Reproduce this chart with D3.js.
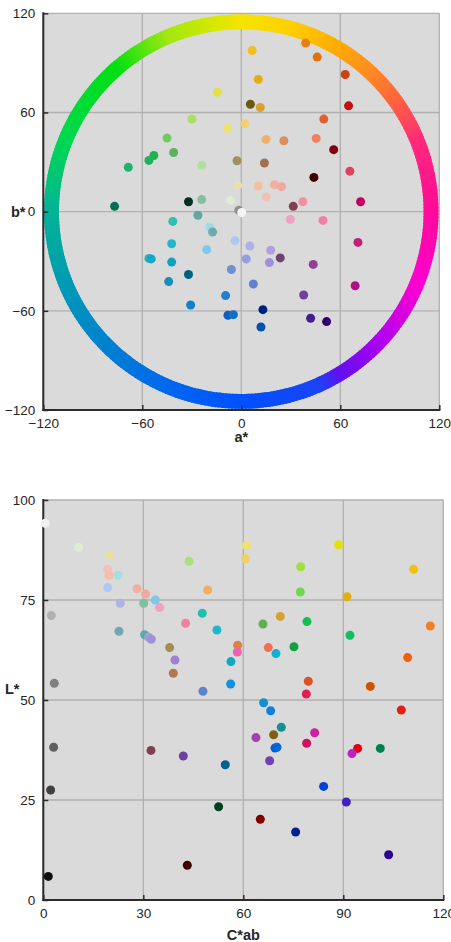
<!DOCTYPE html>
<html>
<head>
<meta charset="utf-8">
<script src="https://cdn.jsdelivr.net/npm/d3@7"></script>
<style>
  html, body { margin: 0; padding: 0; background: #ffffff; }
  svg { display: block; }
  text { font-family: "Liberation Sans", Arial, Helvetica, sans-serif; fill: #262626; }
</style>
</head>
<body>
<svg id="chart" width="451" height="942"></svg>
<script>
// ---- a*b* chromaticity plane ----
const abTicks = [-120, -60, 0, 60, 120];
const abA = [6.6, 39, 46, 63, 10.3, -14.5, 5.5, 11.5, 65, -30, 50, -8.3, 2.2, 15, 25.8, 45.4, -45, -41, -53, -56,
  -68.5, 56, -24, -2.6, 14, 44, 65.8, -2.2, 10.3, 20.2, 24.4, 15.2, -76.8, -32, -24, -6.5, 31.5, 37.3, 72.3, -1.5,
  0.3, -41.5, -26.3, -19.2, -17.4, 29.7, 49.5, 70.7, -42.2, -21, -3.9, 5.2, 17.8, 23.6, 17, 3, -56, -54.6, -42.2, -32,
  -44, -6, 43.6, 7.3, 69, 37.8, -9.5, -30.7, -8.1, -4.8, 13.1, 42, 51.7, 11.9];
const abB = [97.5, 102, 93.5, 83, 80, 72.3, 65, 63, 64, 56, 56, 50.4, 53.2, 43.7, 42.9, 44.3, 44.5, 35.8, 34, 31,
  26.8, 37.5, 28, 30.8, 29.4, 20.7, 24.5, 15.9, 15.5, 16.3, 15.1, 8.8, 3.2, 6, 7.3, 6.8, 3.2, 6, 6, 0.8,
  -0.5, -5.9, -2.2, -9.3, -12.3, -4.7, -5.3, -18.6, -19.4, -23, -17.5, -20.8, -23.4, -28, -30.8, -28.6, -28.3, -28.6, -30.5, -38,
  -42.3, -35, -31.9, -43.8, -44.8, -50.4, -50.8, -56.5, -62.7, -62.3, -59.3, -64.5, -66.5, -69.8];
const abColor = ["#f0c020", "#e8801a", "#e07010", "#d04010", "#e0b010", "#e8e040", "#6b5a10", "#d8a030", "#c01010", "#a8e060",
  "#e06030", "#f0e070", "#f0d070", "#f0b070", "#d89060", "#f08060", "#70cc60", "#60b060", "#20b050", "#20b060",
  "#20b070", "#800010", "#b0e0a0", "#a09060", "#a07050", "#400000", "#e04060", "#e8e0b0", "#f0c0a0", "#f0b0a0",
  "#f0a8a0", "#f0c0b0", "#007050", "#003020", "#80c0a0", "#e0ecd0", "#804050", "#f090a0", "#c00060", "#909090",
  "#f4f4f4", "#30c0b0", "#60a8a0", "#a0dde0", "#70a8b0", "#f0a0c0", "#f080a8", "#c0207a", "#20b8c8", "#80c8e8",
  "#b0c8f0", "#b0b0e8", "#b0a0e0", "#704070", "#a090d8", "#90a0e0", "#30b0c0", "#10a8c8", "#10a0c0", "#006080",
  "#1090b8", "#7090d0", "#904090", "#6080d0", "#b0108a", "#7040a0", "#2080d0", "#1080c8", "#1060c0", "#1070c8",
  "#002080", "#402090", "#300070", "#0050b0"];

// hue ring: colour stops by hue angle (degrees, counter-clockwise from +a*)
const ringHue = [0, 22, 35, 49, 62, 76, 90, 98, 113, 131, 158, 177, 204, 225, 247, 270, 294, 301, 317, 338, 360];
const ringColor = ["#ff0a9a", "#ff2a7a", "#ff6040", "#ff9020", "#ffb000", "#ffd000", "#f5e400", "#d8e800", "#a0e810",
  "#00e010", "#00d850", "#00b890", "#0098b8", "#0080d0", "#0068f0", "#0050ff", "#1a44f8", "#6010f0", "#b000f0",
  "#ff00d0", "#ff0a9a"];
const ringInner = 110.5, ringOuter = 119.5;

// ---- lightness vs chroma ----
const cTicks = [0, 30, 60, 90, 120];
const lTicks = [0, 25, 50, 75, 100];
const chroma = [0.6, 10.6, 19.9, 19.3, 19.7, 22.5, 19.3, 23.1, 28.1, 30.7, 33.6, 30.1, 34.9, 2.4, 22.7, 30.4, 31.6, 32.4,
  43.7, 49.3, 42.7, 47.7, 52.1, 37.9, 39.5, 39, 47.9, 56.3, 56.2, 58.3, 58.2, 3.3, 60.9, 60.7, 77.2, 77.1, 88.6, 111.1,
  91.1, 116.1, 71.1, 65.9, 79.1, 92, 75.2, 67.5, 69.8, 109.3, 79.5, 78.9, 98.1, 107.4, 66.1, 68.2, 71.4, 63.8, 69.1,
  81.4, 79, 69.5, 70.1, 67.9, 3.1, 32.3, 42, 54.6, 94.3, 92.6, 101.1, 84.1, 90.9, 2.2, 52.6, 65.1, 75.7, 103.6, 43.2, 1.5];
const lightness = [94.2, 88.2, 86.2, 82.7, 81.2, 81.2, 78.1, 74.2, 77.8, 76.5, 75, 74.2, 73.1, 71.1, 67.2, 66.3, 65.7, 65.2,
  84.7, 77.5, 69.2, 71.7, 67.5, 63.1, 60, 56.7, 52.2, 59.6, 54, 63.7, 62, 54.2, 88.6, 85.3, 83.3, 77, 88.8, 82.7,
  75.8, 68.5, 70.9, 69, 69.6, 66.2, 63.3, 63.1, 61.6, 60.6, 54.7, 51.5, 53.4, 47.5, 49.3, 47.3, 43.2, 40.6, 41.3,
  41.8, 39.2, 38, 38.2, 34.8, 38.2, 37.4, 36, 33.8, 37.9, 36.6, 37.9, 28.4, 24.5, 27.5, 23.3, 20.2, 17, 11.3, 8.7, 5.9];
const lcColor = ["#f0f0f0", "#e0ecd0", "#e8e0a0", "#f4c0b8", "#f0c0a8", "#a8dde0", "#b0c8f0", "#b0b0e8", "#f0b0a0",
  "#f0a8a0", "#80c8e8", "#80c0a0", "#f0a0c0", "#b0b0b0", "#70a8b0", "#60a8a0", "#a0a0e0", "#a090d8",
  "#a8e080", "#f0b060", "#f080a0", "#20c0b0", "#20b8c8", "#a09050", "#a080d0", "#b07850", "#6080d0", "#10a8c8",
  "#1090e0", "#e08040", "#f060b0", "#808080", "#f0e070", "#f0d060", "#a0e040", "#70d850", "#e0e010", "#f0c010",
  "#e0b010", "#f08020", "#d8a030", "#60b050", "#10c050", "#10c060", "#10a040", "#f07050", "#10b0d0", "#f06010",
  "#e05020", "#e02050", "#d05000", "#e02010", "#1090d0", "#1080e0", "#109090", "#a040b0", "#806010",
  "#d020a0", "#d01060", "#0060d0", "#0068d8", "#7040b0", "#606060", "#804050", "#7040a0", "#006090", "#e00010",
  "#c020c0", "#008050", "#0040d0", "#4020c0", "#404040", "#004020", "#800000", "#002090", "#300090", "#400000", "#101010"];

const svg = d3.select("#chart");
const DOT_R = 4.5;

// Panel background and grid lines
function drawFrame(g, x, y, xt, yt) {
  const [x0, x1] = x.range();
  const [y0, y1] = y.range(); // y0 bottom, y1 top
  g.append("rect").attr("x", x0).attr("y", y1).attr("width", x1 - x0).attr("height", y0 - y1)
    .attr("fill", "#dadada");
  g.append("g").selectAll("line").data(xt).join("line")
    .attr("x1", d => x(d)).attr("x2", d => x(d)).attr("y1", y0).attr("y2", y1)
    .attr("stroke", "#b0b0b0").attr("stroke-width", 1.3);
  g.append("g").selectAll("line").data(yt).join("line")
    .attr("y1", d => y(d)).attr("y2", d => y(d)).attr("x1", x0).attr("x2", x1)
    .attr("stroke", "#b0b0b0").attr("stroke-width", 1.3);
}

// Left/bottom axes with inward ticks, tick labels and axis titles
function drawAxes(g, x, y, xt, yt, xLabel, yLabel, yLabelPos, xLabelY) {
  const [x0, x1] = x.range();
  const [y0, y1] = y.range();
  const axisColor = "#2b2b2b";
  const xAxis = d3.axisBottom(x).tickValues(xt).tickSizeInner(-5).tickSizeOuter(0).tickPadding(8);
  const yAxis = d3.axisLeft(y).tickValues(yt).tickSizeInner(-5).tickSizeOuter(0).tickPadding(8);
  const gx = g.append("g").attr("transform", `translate(0,${y0})`).call(xAxis);
  const gy = g.append("g").attr("transform", `translate(${x0},0)`).call(yAxis);
  [gx, gy].forEach(a => {
    a.select(".domain").attr("stroke", axisColor).attr("stroke-width", 2);
    a.selectAll(".tick line").attr("stroke", axisColor).attr("stroke-width", 1.5);
    a.selectAll(".tick text").attr("font-size", 13.5).attr("fill", "#262626")
      .attr("font-family", "Liberation Sans, Arial, sans-serif");
  });
  gx.select(".domain").attr("d", `M${x0 - 1},0H${x1 + 1}`);
  gy.select(".domain").attr("d", `M0,${y1 - 1}V${y0 + 1}`);
  g.append("text").attr("x", (x0 + x1) / 2).attr("y", xLabelY).attr("text-anchor", "middle")
    .attr("font-size", 14.5).attr("font-weight", "bold").text(xLabel);
  g.append("text").attr("x", yLabelPos[0]).attr("y", yLabelPos[1]).attr("text-anchor", "start")
    .attr("dominant-baseline", "middle")
    .attr("font-size", 14.5).attr("font-weight", "bold").text(yLabel);
}

// ---------- top panel: b* vs a* ----------
{
  const x = d3.scaleLinear().domain([-120, 120]).range([43.3, 439.3]);
  const y = d3.scaleLinear().domain([-120, 120]).range([410, 13.3]);
  const g = svg.append("g");
  drawFrame(g, x, y, abTicks, abTicks);

  // hue ring drawn as thin coloured arc segments
  const hueColor = d3.scaleLinear().domain(ringHue).range(ringColor).interpolate(d3.interpolateRgb);
  const rIn = x(ringInner) - x(0), rOut = x(ringOuter) - x(0);
  const arc = d3.arc().innerRadius(rIn).outerRadius(rOut);
  const steps = d3.range(0, 360, 1);
  g.append("g").attr("transform", `translate(${x(0)},${y(0)})`)
    .selectAll("path").data(steps).join("path")
    .attr("d", h => arc({ startAngle: (90 - h - 1.6) * Math.PI / 180, endAngle: (90 - h) * Math.PI / 180 }))
    .attr("fill", h => hueColor(h + 0.5));

  drawAxes(g, x, y, abTicks, abTicks, "a*", "b*", [11, 213], 442);

  g.append("g").selectAll("circle").data(d3.range(abA.length)).join("circle")
    .attr("cx", i => x(abA[i])).attr("cy", i => y(abB[i])).attr("r", DOT_R)
    .attr("fill", i => abColor[i]);
}

// ---------- bottom panel: L* vs C*ab ----------
{
  const x = d3.scaleLinear().domain([0, 120]).range([43.3, 443.3]);
  const y = d3.scaleLinear().domain([0, 100]).range([900, 500]);
  const g = svg.append("g");
  drawFrame(g, x, y, cTicks, lTicks);
  drawAxes(g, x, y, cTicks, lTicks, "C*ab", "L*", [5, 690], 940);

  g.append("g").selectAll("circle").data(d3.range(chroma.length)).join("circle")
    .attr("cx", i => x(chroma[i])).attr("cy", i => y(lightness[i])).attr("r", DOT_R)
    .attr("fill", i => lcColor[i]);
}
</script>
</body>
</html>
